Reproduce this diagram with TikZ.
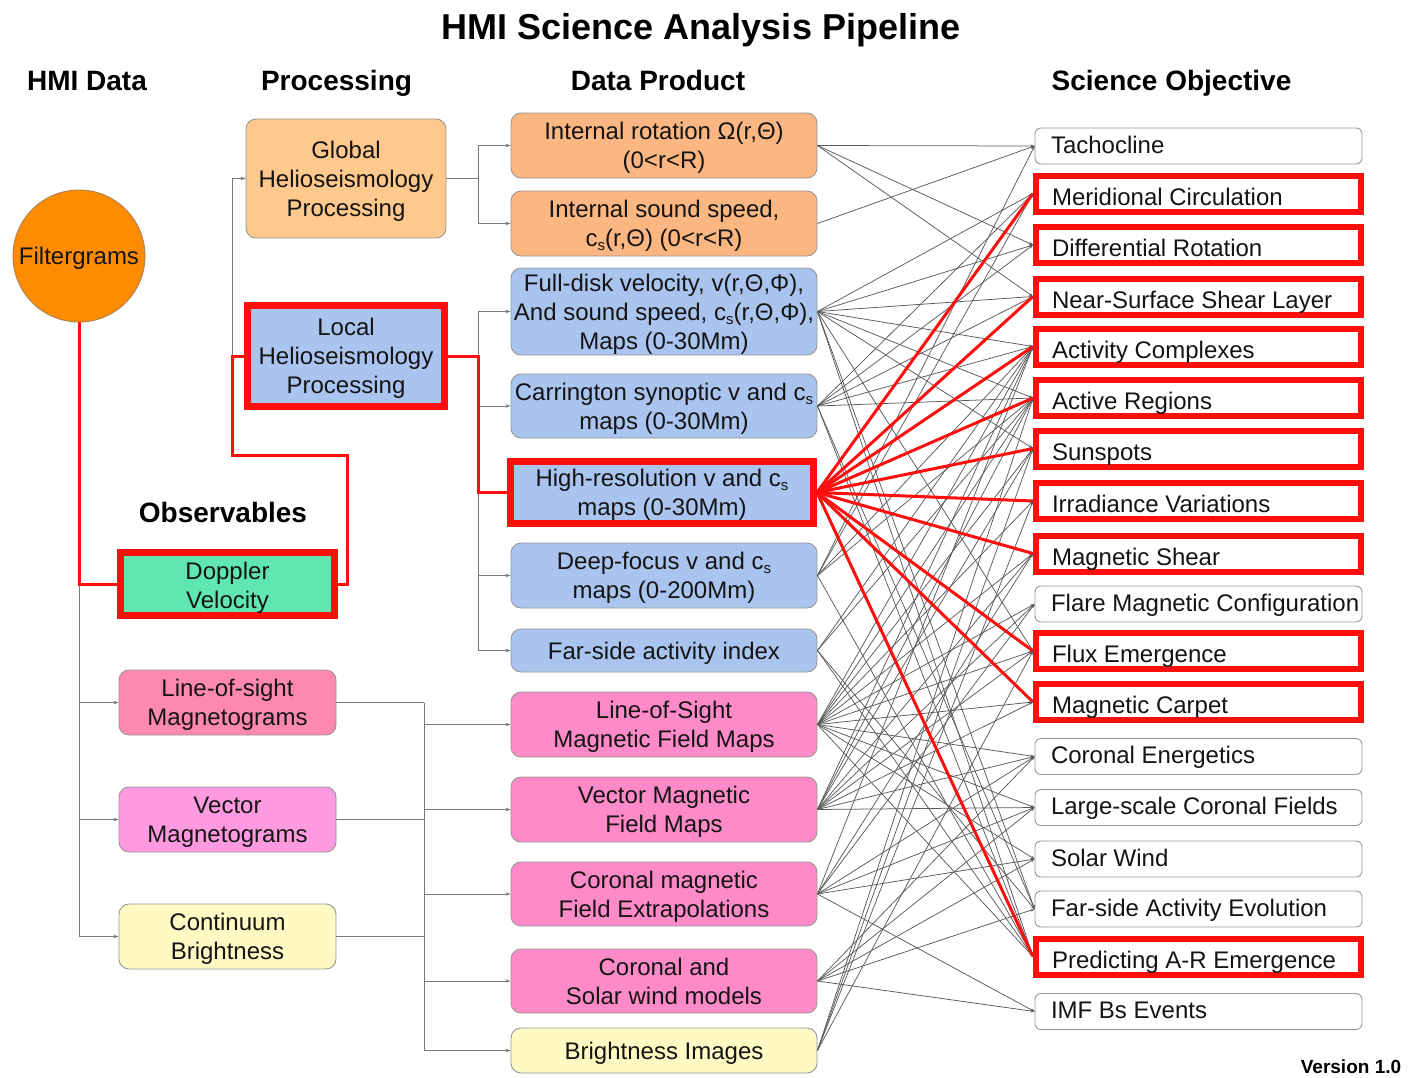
\documentclass[tikz,border=0pt]{standalone}
\usepackage{fontspec}
\setmainfont{Liberation Sans}
\usetikzlibrary{arrows.meta}

\definecolor{hred}{RGB}{255,14,14}
\definecolor{forange}{RGB}{255,140,0}
\definecolor{gpeach}{RGB}{255,200,140}
\definecolor{ppeach}{RGB}{252,182,130}
\definecolor{lblue}{RGB}{170,196,240}
\definecolor{dgreen}{RGB}{96,230,176}
\definecolor{lpink}{RGB}{255,136,178}
\definecolor{vpink}{RGB}{255,154,224}
\definecolor{ppink}{RGB}{255,138,200}
\definecolor{lyellow}{RGB}{255,250,196}
\definecolor{boxline}{RGB}{150,150,150}
\definecolor{meshline}{RGB}{90,90,90}

% small lowered subscript
\newcommand{\lowsub}[1]{\raisebox{-0.32ex}{\fontsize{15}{15}\selectfont #1}}
% centred block of lines, drawn slightly below its nominal centre
\newcommand{\tx}[2][3pt]{\raisebox{-#1}[\height][\depth]{\begin{tabular}{@{}c@{}}#2\end{tabular}}}

\tikzset{
  x=1pt, y=-1pt,
  base/.style={font=\fontsize{24}{29}\selectfont, inner sep=0pt, text=black!92},
  rbox/.style={base, draw=boxline, line width=0.9pt, rounded corners=10pt},
  hbox/.style={base, draw=hred, line width=7pt},
  objbox/.style={font=\fontsize{24}{29}\selectfont, draw=boxline, line width=0.9pt,
    rounded corners=6pt, fill=white, minimum width=327pt, minimum height=36pt,
    inner xsep=16pt, inner ysep=0pt, text height=18pt, text depth=4pt, text=black!92},
  objhi/.style={font=\fontsize{24}{29}\selectfont, draw=hred, line width=6pt,
    fill=white, minimum width=325pt, minimum height=36pt,
    inner xsep=16pt, inner ysep=0pt, text height=18pt, text depth=4pt, text=black!92},
  head/.style={font=\bfseries\fontsize{28}{32}\selectfont, inner sep=0pt, text height=20pt, text depth=6pt},
  tree/.style={draw=boxline!80!black, line width=1pt, -{Stealth[length=5pt,width=3.5pt]}},
  treeplain/.style={draw=boxline!80!black, line width=1pt},
  redline/.style={draw=hred, line width=3pt},
  mesh/.style={draw=meshline, line width=0.75pt, -{Stealth[length=4pt,width=3pt]}},
}

\begin{document}
\begin{tikzpicture}
\useasboundingbox (0,0) rectangle (1416,1077);

% titles and column headings
\node[font=\bfseries\fontsize{36}{40}\selectfont, inner sep=0pt, text height=26pt, text depth=8pt] (title) at (701,30) {HMI Science Analysis Pipeline};
\node[head] (hdata) at (87,83) {HMI Data};
\node[head] (hproc) at (336.5,83) {Processing};
\node[head] (hprod) at (658,83) {Data Product};
\node[head] (hsci) at (1171.5,83) {Science Objective};
\node[head] (hobs) at (223,515) {Observables};
\node[font=\bfseries\fontsize{19}{22}\selectfont, inner sep=0pt] (ver) at (1351,1067) {Version 1.0};

% HMI data
\node[base, circle, fill=forange, draw=brown!70!gray, line width=0.9pt, minimum size=132pt] (filt) at (79,256) {\tx{Filtergrams}};

% processing
\node[rbox, fill=gpeach, minimum width=200pt, minimum height=119pt] (glob) at (346,178.5) {\tx{Global\\Helioseismology\\Processing}};
\node[hbox, fill=lblue, minimum width=197pt, minimum height=101pt] (loc) at (346,356) {\tx{Local\\Helioseismology\\Processing}};

% observables
\node[hbox, fill=dgreen, minimum width=214pt, minimum height=63pt] (dop) at (227.5,584) {\tx[4.5pt]{Doppler\\Velocity}};
\node[rbox, fill=lpink, minimum width=217pt, minimum height=65pt] (losM) at (227.5,702.5) {\tx{Line-of-sight\\Magnetograms}};
\node[rbox, fill=vpink, minimum width=217pt, minimum height=65pt] (vecM) at (227.5,819.5) {\tx{Vector\\Magnetograms}};
\node[rbox, fill=lyellow, minimum width=217pt, minimum height=65pt] (cont) at (227.5,936.5) {\tx{Continuum\\Brightness}};

% data products
\node[rbox, fill=ppeach, minimum width=306pt, minimum height=65pt] (p1) at (664,145.5) {\tx{Internal rotation Ω(r,Θ)\\(0<r<R)}};
\node[rbox, fill=ppeach, minimum width=306pt, minimum height=65pt] (p2) at (664,223.5) {\tx{Internal sound speed,\\c\lowsub{s}(r,Θ) (0<r<R)}};
\node[rbox, fill=lblue, minimum width=306pt, minimum height=87pt] (p3) at (664,311.5) {\tx{Full-disk velocity, v(r,Θ,Φ),\\And sound speed, c\lowsub{s}(r,Θ,Φ),\\Maps (0-30Mm)}};
\node[rbox, fill=lblue, minimum width=306pt, minimum height=64pt] (p4) at (664,406) {\tx{Carrington synoptic v and c\lowsub{s}\\maps (0-30Mm)}};
\node[hbox, fill=lblue, minimum width=303pt, minimum height=62pt] (p5) at (662,492.5) {\tx{High-resolution v and c\lowsub{s}\\maps (0-30Mm)}};
\node[rbox, fill=lblue, minimum width=306pt, minimum height=65pt] (p6) at (664,575.5) {\tx{Deep-focus v and c\lowsub{s}\\maps (0-200Mm)}};
\node[rbox, fill=lblue, minimum width=306pt, minimum height=43pt] (p7) at (664,650.5) {\tx{Far-side activity index}};
\node[rbox, fill=ppink, minimum width=306pt, minimum height=65pt] (p8) at (664,724.5) {\tx{Line-of-Sight\\Magnetic Field Maps}};
\node[rbox, fill=ppink, minimum width=306pt, minimum height=65pt] (p9) at (664,809.5) {\tx{Vector Magnetic\\Field Maps}};
\node[rbox, fill=ppink, minimum width=306pt, minimum height=64pt] (p10) at (664,894) {\tx{Coronal magnetic\\Field Extrapolations}};
\node[rbox, fill=ppink, minimum width=306pt, minimum height=64pt] (p11) at (664,981) {\tx{Coronal and\\Solar wind models}};
\node[rbox, fill=lyellow, minimum width=306pt, minimum height=45pt] (p12) at (664,1050.5) {\tx{Brightness Images}};

% science objectives
\node[objbox] (o1)  at (1198.5,146)  {\makebox[295pt][l]{Tachocline}};
\node[objhi]  (o2)  at (1198.5,193.5) {\raisebox{-4.5pt}{\makebox[293pt][l]{Meridional Circulation}}};
\node[objhi]  (o3)  at (1198.5,245)  {\raisebox{-4.5pt}{\makebox[293pt][l]{Differential Rotation}}};
\node[objhi]  (o4)  at (1198.5,296.5) {\raisebox{-4.5pt}{\makebox[293pt][l]{Near-Surface Shear Layer}}};
\node[objhi]  (o5)  at (1198.5,346.5) {\raisebox{-4.5pt}{\makebox[293pt][l]{Activity Complexes}}};
\node[objhi]  (o6)  at (1198.5,398)  {\raisebox{-4.5pt}{\makebox[293pt][l]{Active Regions}}};
\node[objhi]  (o7)  at (1198.5,448.5) {\raisebox{-4.5pt}{\makebox[293pt][l]{Sunspots}}};
\node[objhi]  (o8)  at (1198.5,501)  {\raisebox{-4.5pt}{\makebox[293pt][l]{Irradiance Variations}}};
\node[objhi]  (o9)  at (1198.5,553.5) {\raisebox{-4.5pt}{\makebox[293pt][l]{Magnetic Shear}}};
\node[objbox] (o10) at (1198.5,604)  {\makebox[295pt][l]{Flare Magnetic Configuration}};
\node[objhi]  (o11) at (1198.5,651)  {\raisebox{-4.5pt}{\makebox[293pt][l]{Flux Emergence}}};
\node[objhi]  (o12) at (1198.5,702)  {\raisebox{-4.5pt}{\makebox[293pt][l]{Magnetic Carpet}}};
\node[objbox] (o13) at (1198.5,756.5) {\makebox[295pt][l]{Coronal Energetics}};
\node[objbox] (o14) at (1198.5,807.5) {\makebox[295pt][l]{Large-scale Coronal Fields}};
\node[objbox] (o15) at (1198.5,859)  {\makebox[295pt][l]{Solar Wind}};
\node[objbox] (o16) at (1198.5,909)  {\makebox[295pt][l]{Far-side Activity Evolution}};
\node[objhi]  (o17) at (1198.5,956.5) {\raisebox{-4.5pt}{\makebox[293pt][l]{Predicting A-R Emergence}}};
\node[objbox] (o18) at (1198.5,1011.5) {\makebox[295pt][l]{IMF Bs Events}};

% branching points of the processing tree
\coordinate (d1) at (347,455);
\coordinate (d2) at (232,455);
\coordinate (g1) at (478,178.5);
\coordinate (l1) at (478,356);
\coordinate (m1) at (424,702.5);
\coordinate (m2) at (424,819.5);
\coordinate (m3) at (424,936.5);

% grey tree
\draw[tree] (filt.south) |- (losM.west);
\draw[tree] (filt.south) |- (vecM.west);
\draw[tree] (filt.south) |- (cont.west);
\draw[tree] (d2) |- (glob.west);
\draw[treeplain] (glob.east) -- (g1);
\draw[tree] (g1) |- (p1.west);
\draw[tree] (g1) |- (p2.west);
\draw[tree] (l1) |- (p3.west);
\draw[tree] (l1) |- (p4.west);
\draw[tree] (l1) |- (p6.west);
\draw[tree] (l1) |- (p7.west);
\draw[treeplain] (losM.east) -- (m1);
\draw[treeplain] (vecM.east) -- (m2);
\draw[treeplain] (cont.east) -- (m3);
\draw[tree] (m1) |- (p8.west);
\draw[tree] (m1) |- (p9.west);
\draw[tree] (m1) |- (p10.west);
\draw[tree] (m1) |- (p11.west);
\draw[tree] (m1) |- (p12.west);

% grey links from products to objectives
\foreach \p/\o in {p1/o1, p1/o3, p1/o4, p2/o1,
  p3/o2, p3/o3, p3/o4, p3/o5, p3/o6, p3/o7, p3/o11, p3/o16, p3/o17,
  p4/o2, p4/o3, p4/o4, p4/o5, p4/o6, p4/o16, p4/o17,
  p6/o1, p6/o2, p6/o5, p6/o6, p6/o17,
  p7/o5, p7/o6, p7/o16, p7/o17,
  p8/o5, p8/o6, p8/o7, p8/o8, p8/o9, p8/o10, p8/o11, p8/o12, p8/o13, p8/o14, p8/o15, p8/o17,
  p9/o5, p9/o6, p9/o7, p9/o9, p9/o10, p9/o11, p9/o12, p9/o13, p9/o14,
  p10/o5, p10/o9, p10/o10, p10/o13, p10/o14, p10/o15, p10/o18,
  p11/o13, p11/o14, p11/o15, p11/o16, p11/o18,
  p12/o6, p12/o7, p12/o8, p12/o11}
  \draw[mesh] (\p.east) -- (\o.west);

% red path: Doppler velocity through local helioseismology
\draw[redline] (filt.south) |- (dop.west);
\draw[redline] (dop.east) -| (d1) -- (d2) |- (loc.west);
\draw[redline] (loc.east) -- (l1) |- (p5.west);
\foreach \o in {o2, o4, o5, o6, o7, o8, o9, o11, o12, o17}
  \draw[redline] (p5.east) -- (\o.west);

\end{tikzpicture}
\end{document}
